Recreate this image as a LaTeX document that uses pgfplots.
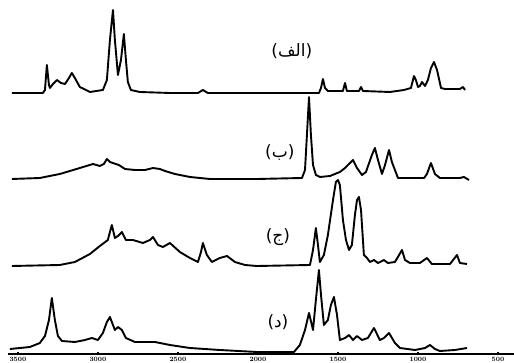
\documentclass[border=0pt]{standalone}
\usepackage{pgfplots}
\pgfplotsset{compat=1.18}
\usepackage{fontspec}
\newfontfamily\arabicfont[Script=Arabic]{DejaVu Sans}
\newfontfamily\parenfont{DejaVu Sans}
\TeXXeTstate=1
\newcommand{\lbl}[1]{{\parenfont(}{\arabicfont\beginR #1\endR}{\parenfont)}}
\begin{document}
\begin{tikzpicture}
\useasboundingbox (-8pt,-9pt) rectangle (506pt,354pt);
\clip (-8pt,-9pt) rectangle (506pt,354pt);
\begin{axis}[
  at={(0pt,0pt)}, anchor=south west,
  width=506pt, height=354pt, scale only axis,
  xmin=400, xmax=3562, x dir=reverse,
  ymin=0, ymax=354,
  axis x line=bottom, axis y line=none,
  x axis line style={-, line width=1.4pt},
  xtick={500,1000,1500,2000,2500,3000,3500},
  xticklabels={500,1000,1500,2000,2500,3000,3500},
  major tick length=3pt, tick align=center,
  tick style={line width=1.8pt,black},
  xticklabel style={font=\bfseries\fontsize{6.5}{6.5}\selectfont, inner sep=0pt, anchor=north, yshift=-1.5pt},
  clip=false,
]
\addplot[black, line width=1.9pt, line join=round] coordinates {
(3538,261)(3344,261)(3331,264)(3319,289)(3306,269)(3300,266)(3281,270)(3256,274)
(3231,271)(3206,270)(3181,276)(3163,281)(3144,276)(3113,267)(3050,262)(2969,264)
(2944,274)(2925,314)(2906,344)(2894,314)(2875,279)(2856,294)(2838,320)(2825,294)
(2813,272)(2794,264)(2738,262)(2550,261)(2375,261)(2344,264)(2313,261)(1619,261)
(1606,266)(1594,275)(1581,266)(1563,263)(1469,263)(1456,271)(1444,263)(1369,263)
(1356,267)(1344,263)(1175,262)(1088,264)(1044,266)(1025,278)(1013,274)(1000,267)
(988,268)(975,272)(956,268)(938,274)(919,286)(900,292)(881,284)(856,266)(831,265)
(738,265)(719,267)(706,264)
};
\addplot[black, line width=1.9pt, line join=round] coordinates {
(3538,175)(3363,176)(3238,180)(3113,186)(3031,190)(2988,188)(2963,190)(2944,195)
(2925,192)(2906,191)(2869,189)(2831,185)(2769,184)(2706,184)(2656,186)(2613,185)
(2581,183)(2519,180)(2425,177)(2300,175)(2006,175)(1725,176)(1706,184)(1694,219)
(1681,257)(1669,219)(1656,189)(1638,179)(1613,177)(1550,178)(1488,182)(1456,186)
(1438,189)(1406,194)(1381,186)(1350,179)(1325,182)(1288,199)(1269,206)(1250,194)
(1225,180)(1206,189)(1181,204)(1163,192)(1125,176)(962,176)(944,180)(919,191)
(894,180)(863,176)(738,176)(713,177)(681,174)
};
\addplot[black, line width=1.9pt, line join=round] coordinates {
(3538,88)(3238,89)(3144,92)(3050,100)(2988,108)(2938,114)(2925,122)(2913,129)
(2894,116)(2875,118)(2850,122)(2825,114)(2781,114)(2719,111)(2675,114)(2656,117)
(2625,109)(2594,107)(2550,111)(2488,102)(2425,96)(2375,92)(2356,102)(2344,111)
(2319,99)(2288,92)(2238,96)(2194,98)(2144,92)(2081,89)(2006,88)(1675,89)
(1656,104)(1638,126)(1625,109)(1613,92)(1588,99)(1563,119)(1531,154)(1513,172)
(1500,174)(1488,169)(1469,134)(1450,114)(1431,104)(1413,109)(1394,139)(1381,154)
(1369,157)(1356,144)(1338,99)(1319,96)(1300,92)(1275,94)(1250,91)(1213,94)
(1188,91)(1144,92)(1100,104)(1081,94)(1050,91)(988,91)(944,96)(913,90)
(800,90)(756,99)(738,91)(694,90)
};
\addplot[black, line width=1.9pt, line join=round] coordinates {
(3550,5)(3425,7)(3363,11)(3331,18)(3306,34)(3288,56)(3269,34)(3250,18)
(3225,13)(3144,12)(3081,14)(3038,16)(3000,14)(2969,21)(2944,32)(2925,37)
(2906,29)(2894,24)(2875,27)(2850,24)(2825,16)(2769,12)(2644,12)(2550,9)
(2425,6)(2238,4)(2006,2)(1775,2)(1738,9)(1706,24)(1681,41)(1656,24)
(1638,54)(1619,84)(1606,59)(1588,29)(1563,34)(1544,49)(1525,57)(1506,39)
(1488,14)(1456,16)(1431,19)(1406,14)(1381,18)(1350,14)(1313,16)(1275,26)
(1238,14)(1213,16)(1181,21)(1144,11)(1113,6)(1019,4)(956,6)(925,9)
(894,5)(863,3)(769,4)(694,6)
};
\node[font=\fontsize{17}{19}\selectfont] at (axis cs:1788,303) {\lbl{الف}};
\node[font=\fontsize{17}{19}\selectfont] at (axis cs:1863,201) {\lbl{ب}};
\node[font=\fontsize{17}{19}\selectfont] at (axis cs:1875,117) {\lbl{ج}};
\node[font=\fontsize{17}{19}\selectfont] at (axis cs:1875,32) {\lbl{د}};
\end{axis}
\end{tikzpicture}
\end{document}
